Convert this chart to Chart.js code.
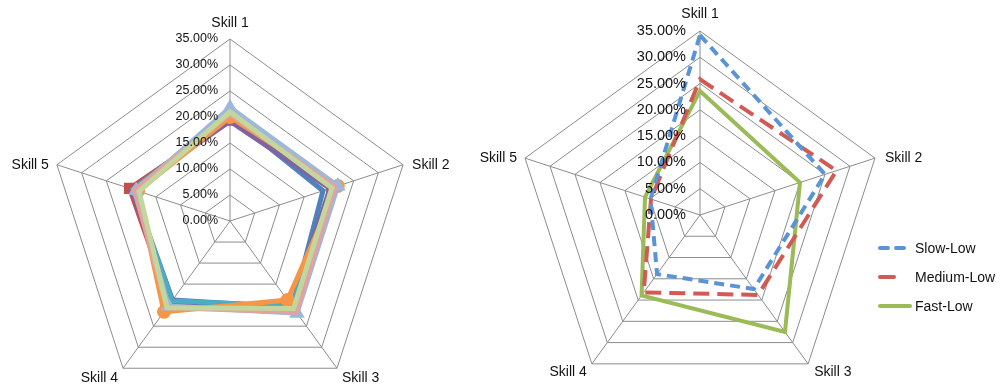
<!DOCTYPE html>
<html>
<head>
<meta charset="utf-8">
<script src="https://cdn.jsdelivr.net/npm/chart.js@4"></script>
<style>
  html, body { margin: 0; padding: 0; background: #fff; }
  #wrap { position: relative; width: 1008px; height: 389px; overflow: hidden; }
  canvas { position: absolute; top: 0; }
  #skillsAll { left: 0; }
  #skillsSpeed { left: 470px; }
</style>
</head>
<body>
<div id="wrap">
  <canvas id="skillsAll" width="460" height="420"></canvas>
  <canvas id="skillsSpeed" width="538" height="420"></canvas>
</div>
<script>
const skills = ["Skill 1", "Skill 2", "Skill 3", "Skill 4", "Skill 5"];
const tickStep = 5;
const tickMax = 35;

// left chart: all groups (percent)
const groupBlue = [20.2, 18.8, 20.5, 18.8, 19.6];
const groupRed = [19.4, 20.6, 20.6, 19.6, 20.3];
const groupPurple = [19.2, 20.2, 20.2, 19.4, 19.8];
const groupTeal = [20.4, 21.6, 20.2, 19.0, 19.6];
const groupOrange = [20.0, 21.8, 18.8, 21.6, 18.6];
const groupLightBlue = [21.8, 21.8, 21.9, 20.2, 19.0];
const groupPink = [20.6, 21.2, 21.7, 20.6, 19.3];
const groupLightGreen = [21.0, 20.6, 20.8, 20.6, 18.4];

// right chart: speed groups (percent)
const speedNames = ["Slow-Low", "Medium-Low", "Fast-Low"];
const slowLow = [34.2, 25.0, 17.4, 13.9, 9.9];
const mediumLow = [25.8, 27.3, 18.8, 18.2, 9.8];
const fastLow = [23.6, 20.0, 27.5, 18.9, 11.0];

const FONT = "'Liberation Sans', Arial, sans-serif";

// tick values and skill names drawn around the web
const radarText = {
  id: "radarText",
  afterDraw(chart, args, opts) {
    const scale = chart.scales.r;
    const ctx = chart.ctx;
    ctx.save();
    ctx.fillStyle = "#111";
    ctx.textBaseline = "middle";
    ctx.font = opts.tickFont;
    ctx.textAlign = "right";
    scale.ticks.forEach((t) => {
      const d = scale.getDistanceFromCenterForValue(t.value);
      ctx.fillText(t.value.toFixed(2) + "%", scale.xCenter - opts.tickGap, scale.yCenter - d);
    });
    ctx.font = opts.labelFont;
    chart.data.labels.forEach((label, i) => {
      const p = scale.getPointPosition(i, scale.drawingArea);
      const off = opts.labelOffsets[i];
      ctx.textAlign = off[2];
      ctx.fillText(label, p.x + off[0], p.y + off[1]);
    });
    ctx.restore();
  },
};

// legend on the right of the speed chart
const speedLegend = {
  id: "speedLegend",
  afterDraw(chart, args, opts) {
    const ctx = chart.ctx;
    ctx.save();
    ctx.font = opts.font;
    ctx.textAlign = "left";
    ctx.textBaseline = "middle";
    chart.data.datasets.forEach((ds, i) => {
      const y = opts.y + i * opts.rowGap;
      ctx.strokeStyle = ds.borderColor;
      ctx.lineWidth = ds.borderWidth;
      ctx.lineCap = "round";
      ctx.setLineDash(ds.legendDash || []);
      ctx.beginPath();
      ctx.moveTo(opts.x, y);
      ctx.lineTo(opts.x + opts.lineLen, y);
      ctx.stroke();
      ctx.setLineDash([]);
      ctx.fillStyle = "#111";
      ctx.fillText(ds.label, opts.x + opts.lineLen + opts.textGap, y + 1);
    });
    ctx.restore();
  },
};

function radarScale() {
  return {
    r: {
      min: 0,
      max: tickMax,
      ticks: { stepSize: tickStep, display: false },
      pointLabels: { display: false },
      grid: { color: "#8c8c8c", lineWidth: 1 },
      angleLines: { color: "#8c8c8c", lineWidth: 1 },
    },
  };
}

function group(label, data, color, extra) {
  return Object.assign(
    {
      label: label,
      data: data,
      borderColor: color,
      backgroundColor: color,
      borderWidth: 5,
      fill: false,
      tension: 0,
      pointRadius: 0,
      borderJoinStyle: "miter",
    },
    extra || {}
  );
}

new Chart(document.getElementById("skillsAll"), {
  type: "radar",
  data: {
    labels: skills,
    datasets: [
      group("Group 8", groupLightGreen, "#c3d69b"),
      group("Group 7", groupPink, "#e0a3a1"),
      group("Group 6", groupLightBlue, "#9db8dc", { pointRadius: 4, pointStyle: "triangle" }),
      group("Group 5", groupOrange, "#f79646", { pointRadius: 4.5, pointStyle: "circle" }),
      group("Group 4", groupTeal, "#4bacc6"),
      group("Group 3", groupPurple, "#8064a2"),
      group("Group 2", groupRed, "#c0504d", { pointRadius: 4.5, pointStyle: "rect" }),
      group("Group 1", groupBlue, "#4f81bd"),
    ],
  },
  options: {
    responsive: false,
    animation: false,
    layout: { padding: { left: 48, right: 48, top: 39, bottom: 17 } },
    scales: radarScale(),
    plugins: {
      legend: { display: false },
      tooltip: { enabled: false },
      radarText: {
        tickFont: "12.5px " + FONT,
        labelFont: "14px " + FONT,
        tickGap: 12,
        labelOffsets: [
          [0, -16, "center"],
          [9, 0, "left"],
          [5, 10, "left"],
          [-5, 10, "right"],
          [-8, 0, "right"],
        ],
      },
    },
  },
  plugins: [radarText],
});

new Chart(document.getElementById("skillsSpeed"), {
  type: "radar",
  data: {
    labels: skills,
    datasets: [
      group(speedNames[0], slowLow, "#5a94d6", { borderWidth: 4, borderDash: [10, 6], legendDash: [8, 8] }),
      group(speedNames[1], mediumLow, "#d25a54", { borderWidth: 4, borderDash: [16, 8], legendDash: [14, 40] }),
      group(speedNames[2], fastLow, "#9bbb59", { borderWidth: 4 }),
    ],
  },
  options: {
    responsive: false,
    animation: false,
    layout: { padding: { left: 46, right: 124, top: 31, bottom: 21 } },
    scales: radarScale(),
    plugins: {
      legend: { display: false },
      tooltip: { enabled: false },
      radarText: {
        tickFont: "14.5px " + FONT,
        labelFont: "14px " + FONT,
        tickGap: 14,
        labelOffsets: [
          [0, -17, "center"],
          [10, 0, "left"],
          [6, 8, "left"],
          [-5, 8, "right"],
          [-8, 0, "right"],
        ],
      },
      speedLegend: { font: "14px " + FONT, x: 410, y: 248, rowGap: 29, lineLen: 30, textGap: 5 },
    },
  },
  plugins: [radarText, speedLegend],
});
</script>
</body>
</html>
